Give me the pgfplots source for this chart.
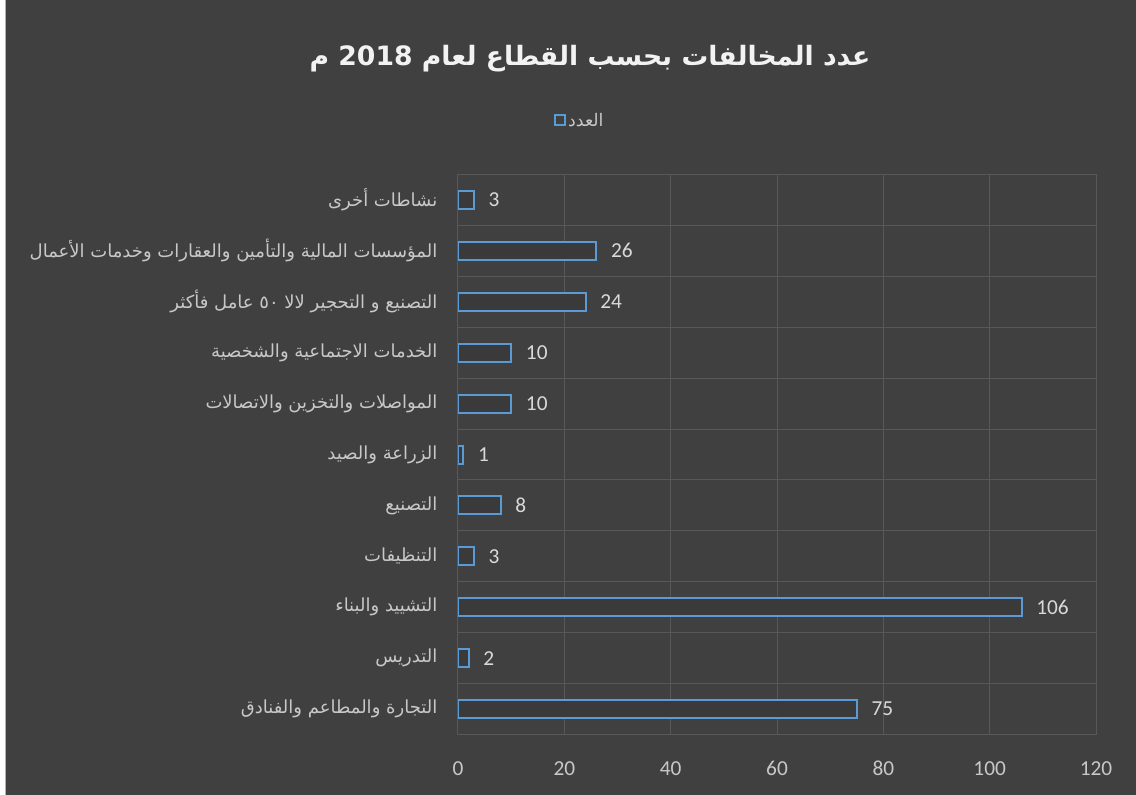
\documentclass[border=0pt]{standalone}
\usepackage{pgfplots}
\pgfplotsset{compat=1.18}
\usepackage{fontspec}
\setmainfont{Carlito}
\newfontfamily\arabicfont[Script=Arabic]{DejaVu Sans}
\TeXXeTstate=1
\definecolor{bg}{HTML}{404040}
\definecolor{gridc}{HTML}{585858}
\definecolor{barblue}{HTML}{5B9BD5}
\definecolor{lbl}{HTML}{C8C8C8}
\definecolor{num}{HTML}{D9D9D9}
\definecolor{ttl}{HTML}{F2F2F2}
\begin{document}
\begin{tikzpicture}
\fill[bg] (0,0) rectangle ({1136*0.75pt},{-794*0.75pt});
\fill[white] (0,0) rectangle ({5*0.75pt},{-794*0.75pt});
\draw[gray!60, line width=0.75pt] ({5.5*0.75pt},0) -- ({5.5*0.75pt},{-794*0.75pt});
\node[font=\arabicfont\bfseries\fontsize{20}{24}\selectfont, text=ttl] at ({590*0.75pt},{-58*0.75pt}) {\beginR عدد المخالفات بحسب القطاع لعام 2018 م\endR};
\begin{axis}[
  at={({458*0.75pt},{-734*0.75pt})}, anchor=south west,
  scale only axis, width={638*0.75pt}, height={560*0.75pt},
  xbar, bar width={18*0.75pt}, bar shift=0pt,
  xmin=0, xmax=120, ymin=-0.5, ymax=10.5,
  xtick={0,20,...,120},
  ytick={0,...,10},
  yticklabels={
    {\beginR التجارة والمطاعم والفنادق\endR},
    {\beginR التدريس\endR},
    {\beginR التشييد والبناء\endR},
    {\beginR التنظيفات\endR},
    {\beginR التصنيع\endR},
    {\beginR الزراعة والصيد\endR},
    {\beginR المواصلات والتخزين والاتصالات\endR},
    {\beginR الخدمات الاجتماعية والشخصية\endR},
    {\beginR التصنيع و التحجير لالا ٥٠ عامل فأكثر\endR},
    {\beginR المؤسسات المالية والتأمين والعقارات وخدمات الأعمال\endR},
    {\beginR نشاطات أخرى\endR}},
  minor ytick={0.5,1.5,...,9.5},
  major tick length=0pt, minor tick length=0pt,
  xmajorgrids, yminorgrids,
  grid style={gridc, line width=0.75pt},
  minor grid style={gridc, line width=0.75pt},
  axis line style={gridc, line width=0.75pt},
  /pgf/number format/assume math mode=true,
  xticklabel style={font=\fontsize{16}{18}\selectfont, text=lbl, text height=11pt, text depth=0pt},
  yticklabel style={font=\arabicfont\fontsize{13.5}{15}\selectfont, text=lbl},
  x tick label style={yshift=-16pt},
  y tick label style={xshift=-12pt},
  nodes near coords,
  nodes near coords style={font=\fontsize{16}{18}\selectfont, text=num, anchor=west, xshift=7pt},
  legend style={at={(0.191,1.096)}, anchor=center, draw=none, fill=none,
    font=\arabicfont\fontsize{13}{15}\selectfont, text=lbl, legend columns=1},
  legend image code/.code={\draw[barblue, line width=1.5pt, fill=bg] (0pt,-3.5pt) rectangle (7.5pt,4pt);},
]
\addplot[draw=barblue, line width=1.5pt, fill=bg!90!black] coordinates {
  (75,0) (2,1) (106,2) (3,3) (8,4) (1,5) (10,6) (10,7) (24,8) (26,9) (3,10)
};
\addlegendentry{\beginR العدد\endR}
\end{axis}
\end{tikzpicture}
\end{document}
